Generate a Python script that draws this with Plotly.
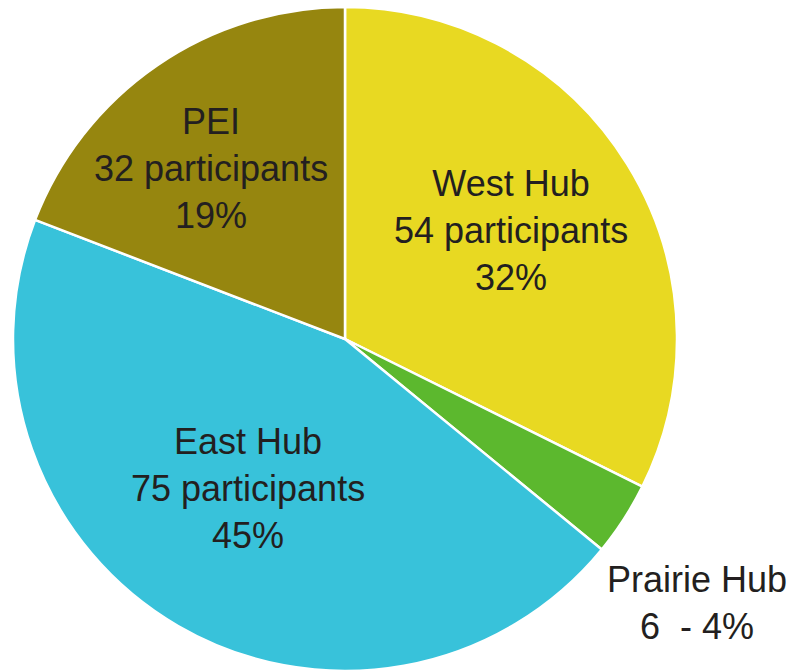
import plotly.graph_objects as go

labels = ["West Hub", "Prairie Hub", "East Hub", "PEI"]
values = [54, 6, 75, 32]
percents = ["32%", "4%", "45%", "19%"]
colors = ["#E8D922", "#5CB82E", "#38C2DA", "#96860F"]

# label-centre placement in pixels (layout only)
label_pos = {"West Hub": (511, 230), "Prairie Hub": (697, 603),
             "East Hub": (248, 488), "PEI": (211, 168)}

W, H = 792, 671
FONT = "Liberation Sans, Arial, sans-serif"

fig = go.Figure(go.Pie(
    labels=labels,
    values=values,
    textinfo="none",
    sort=False,
    direction="clockwise",
    rotation=0,
    marker=dict(colors=colors, line=dict(color="white", width=2.5)),
    domain=dict(x=[12/W, 678/W], y=[0, 664/H]),
    showlegend=False,
    hoverinfo="label+value+percent",
))

for lab, v, p in zip(labels, values, percents):
    if lab == "Prairie Hub":
        txt = f"{lab}<br>{v}  - {p}"
    else:
        txt = f"{lab}<br>{v} participants<br>{p}"
    px, py = label_pos[lab]
    fig.add_annotation(
        x=px / W, y=1 - py / H, xref="paper", yref="paper",
        xanchor="center", yanchor="middle",
        text=txt, showarrow=False, align="center",
        font=dict(family=FONT, size=36, color="#231F20"),
    )

fig.update_layout(
    width=W, height=H,
    margin=dict(l=0, r=0, t=0, b=0),
    paper_bgcolor="white", plot_bgcolor="white",
)
fig.write_html("out.html", config={"displayModeBar": False},
               post_script="document.body.style.margin='0';")
